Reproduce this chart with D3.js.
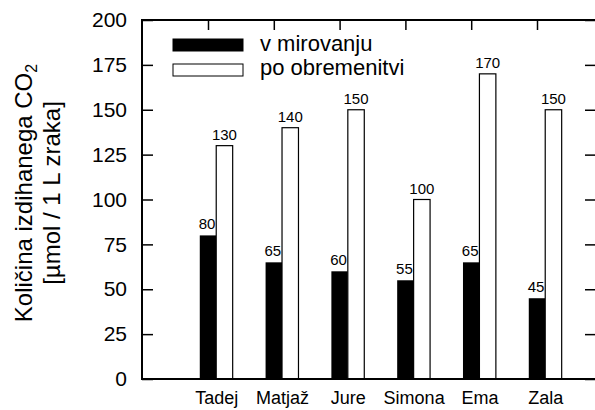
<!DOCTYPE html>
<html>
<head>
<meta charset="utf-8">
<script src="https://cdn.jsdelivr.net/npm/d3@7"></script>
<style>
  body { margin: 0; background: #fff; }
  svg { display: block; font-family: "Liberation Sans", Arial, sans-serif; }
</style>
</head>
<body>
<div id="vis"></div>
<script>
const names = ["Tadej", "Matjaž", "Jure", "Simona", "Ema", "Zala"];
const restValues = [80, 65, 60, 55, 65, 45];
const loadValues = [130, 140, 150, 100, 170, 150];
const seriesNames = ["v mirovanju", "po obremenitvi"];
const yTickValues = [0, 25, 50, 75, 100, 125, 150, 175, 200];

const frame = { left: 142, right: 596, top: 20, bottom: 379 };

const svg = d3.select("#vis")
  .append("svg")
  .attr("width", 595)
  .attr("height", 410);

const x = d3.scalePoint()
  .domain(names)
  .range([208, 537]);

const bw = x.step() / 4;

const y = d3.scaleLinear()
  .domain([0, 200])
  .range([frame.bottom, frame.top]);

// left axis with inward ticks
const leftAxis = svg.append("g")
  .attr("transform", `translate(${frame.left},0)`)
  .call(d3.axisLeft(y).tickValues(yTickValues).tickSizeInner(-11).tickSizeOuter(0).tickPadding(15));
leftAxis.select(".domain").remove();
leftAxis.selectAll("line").attr("stroke", "#000").attr("stroke-width", 1.5);
leftAxis.selectAll("text")
  .attr("font-size", 21)
  .attr("font-family", "Liberation Sans, Arial, sans-serif")
  .attr("fill", "#000");

// right mirror ticks
const rightAxis = svg.append("g")
  .attr("transform", `translate(${frame.right},0)`)
  .call(d3.axisRight(y).tickValues(yTickValues).tickSizeInner(-11).tickSizeOuter(0).tickFormat(""));
rightAxis.select(".domain").remove();
rightAxis.selectAll("line").attr("stroke", "#000").attr("stroke-width", 1.5);

// top ticks
const topAxis = svg.append("g")
  .attr("transform", `translate(0,${frame.top})`)
  .call(d3.axisTop(x).tickSizeInner(-10).tickSizeOuter(0).tickFormat(""));
topAxis.select(".domain").remove();
topAxis.selectAll("line").attr("stroke", "#000").attr("stroke-width", 1.5);

// bottom labels, centred under each pair of bars
const bottomAxis = svg.append("g")
  .attr("transform", `translate(${bw / 2},${frame.bottom})`)
  .call(d3.axisBottom(x).tickSize(0).tickPadding(12));
bottomAxis.select(".domain").remove();
bottomAxis.selectAll("text")
  .attr("font-size", 18)
  .attr("font-family", "Liberation Sans, Arial, sans-serif")
  .attr("fill", "#000");

// bars
svg.selectAll(".rest")
  .data(names)
  .enter()
  .append("rect")
  .attr("class", "rest")
  .attr("x", d => x(d) - bw / 2)
  .attr("width", bw)
  .attr("y", (d, i) => y(restValues[i]))
  .attr("height", (d, i) => y(0) - y(restValues[i]))
  .attr("fill", "#000");

svg.selectAll(".load")
  .data(names)
  .enter()
  .append("rect")
  .attr("class", "load")
  .attr("x", d => x(d) + bw / 2)
  .attr("width", bw)
  .attr("y", (d, i) => y(loadValues[i]))
  .attr("height", (d, i) => y(0) - y(loadValues[i]))
  .attr("fill", "#fff")
  .attr("stroke", "#000")
  .attr("stroke-width", 1.2);

// value labels
svg.selectAll(".restLabel")
  .data(names)
  .enter()
  .append("text")
  .attr("x", d => x(d) - 1)
  .attr("y", (d, i) => y(restValues[i]) - 6)
  .attr("text-anchor", "middle")
  .attr("font-size", 15)
  .text((d, i) => restValues[i]);

svg.selectAll(".loadLabel")
  .data(names)
  .enter()
  .append("text")
  .attr("x", d => x(d) + bw)
  .attr("y", (d, i) => y(loadValues[i]) - 6)
  .attr("text-anchor", "middle")
  .attr("font-size", 15)
  .text((d, i) => loadValues[i]);

// frame
svg.append("rect")
  .attr("x", frame.left)
  .attr("y", frame.top)
  .attr("width", frame.right - frame.left)
  .attr("height", frame.bottom - frame.top)
  .attr("fill", "none")
  .attr("stroke", "#000")
  .attr("stroke-width", 2);

// legend
const legend = svg.append("g");
seriesNames.forEach((s, i) => {
  legend.append("rect")
    .attr("x", 173)
    .attr("y", 39 + i * 25)
    .attr("width", 70)
    .attr("height", 12)
    .attr("fill", i === 0 ? "#000" : "#fff")
    .attr("stroke", "#000")
    .attr("stroke-width", 1);
  legend.append("text")
    .attr("x", 260)
    .attr("y", 51 + i * 24)
    .attr("font-size", 22)
    .text(s);
});

// y title
const title = svg.append("text")
  .attr("transform", "translate(32,193) rotate(-90)")
  .attr("text-anchor", "middle")
  .attr("font-size", 24);
title.append("tspan").text("Količina izdihanega CO");
title.append("tspan").attr("font-size", 16).attr("dy", 5).text("2");

svg.append("text")
  .attr("transform", "translate(60,193) rotate(-90)")
  .attr("text-anchor", "middle")
  .attr("font-size", 24)
  .text("[µmol / 1 L zraka]");
</script>
</body>
</html>
